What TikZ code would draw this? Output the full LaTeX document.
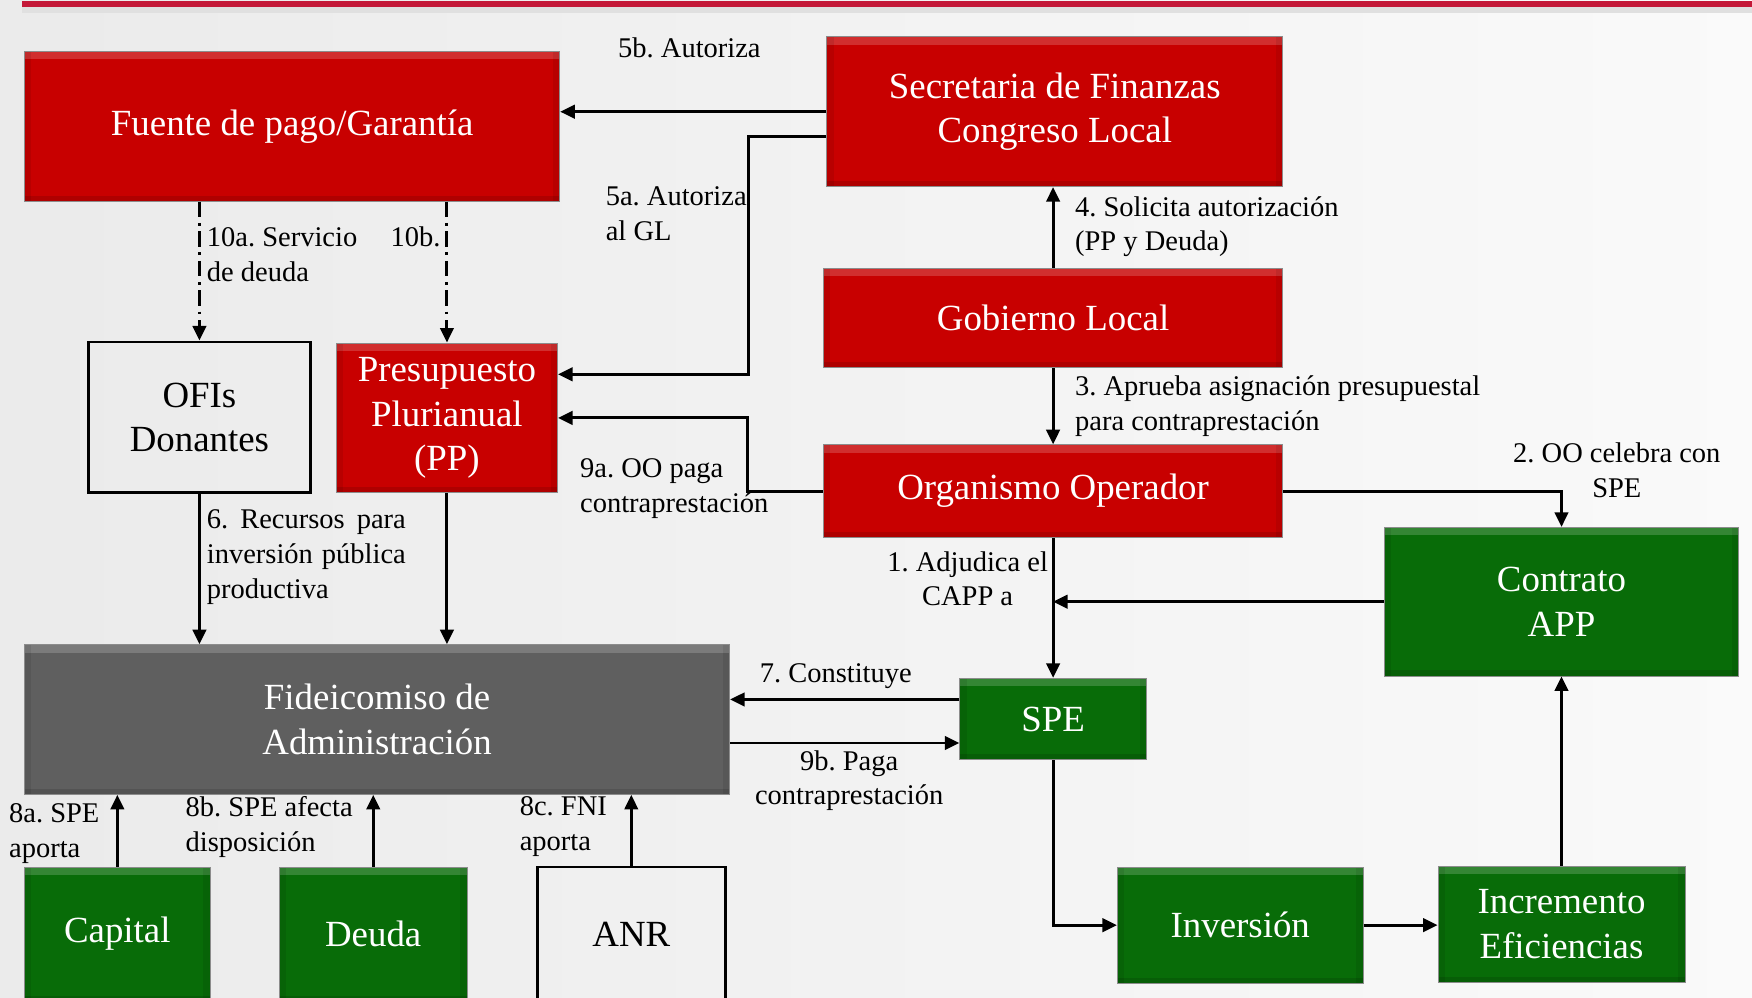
\documentclass[tikz,border=0pt]{standalone}
\usepackage{fontspec}
\setmainfont{Liberation Serif}
\usetikzlibrary{arrows.meta,calc}
\frenchspacing
\definecolor{boxred}{RGB}{200,0,0}
\definecolor{boxgreen}{RGB}{8,108,8}
\definecolor{boxgray}{RGB}{95,95,95}
\definecolor{topline}{RGB}{196,24,56}
\tikzset{
  base/.style={rectangle, inner sep=0pt, align=center, font=\fontsize{33}{40}\selectfont, draw=black!45, line width=0.8pt},
  bevel/.style={path picture={
      \fill[white,opacity=0.18] (path picture bounding box.north west) rectangle ([yshift=-7pt]path picture bounding box.north east);
      \fill[black,opacity=0.12] (path picture bounding box.south west) rectangle ([yshift=5pt]path picture bounding box.south east);
      \fill[black,opacity=0.08] (path picture bounding box.south west) rectangle ([xshift=6pt]path picture bounding box.north west);
      \fill[black,opacity=0.08] (path picture bounding box.south east) rectangle ([xshift=-6pt]path picture bounding box.north east);}},
  redbox/.style={base,bevel,fill=boxred,text=white},
  greenbox/.style={base,bevel,fill=boxgreen,text=white},
  graybox/.style={base,bevel,fill=boxgray,text=white},
  whitebox/.style={base,draw=black,line width=2.5pt,text=black},
  lab/.style={inner sep=0pt, font=\fontsize{25.5}{31}\selectfont, text=black},
  arr/.style={line width=2.6pt, -{Triangle[length=13pt,width=12pt]}},
  dd/.style={arr, dash pattern=on 14pt off 5pt on 2.5pt off 5pt}
}
\begin{document}
\begin{tikzpicture}[x=1pt,y=-1pt]
\useasboundingbox (0,0) rectangle (1568,893);
\shade[left color=black!8, right color=black!2] (0,0) rectangle (1568,893);
\draw[black!12, line width=5pt] (20,9) -- (1568,9);
\draw[topline, line width=5pt] (20,3.5) -- (1568,3.5);

% nodes
\node[redbox, minimum width=479pt, minimum height=134pt] (fuente) at (261.5,113) {Fuente de pago/Garantía};
\node[redbox, minimum width=408pt, minimum height=134pt] (secre) at (944,100) {Secretaria de Finanzas\\Congreso Local};
\node[redbox, minimum width=411pt, minimum height=89pt] (gob) at (942.5,284.5) {Gobierno Local};
\node[redbox, minimum width=411pt, minimum height=83pt] (oo) at (942.5,439.5) {Organismo Operador};
\node[whitebox, minimum width=199pt, minimum height=135pt] (ofis) at (178.5,373.5) {OFIs\\Donantes};
\node[redbox, minimum width=198pt, minimum height=134pt] (pp) at (400,374) {Presupuesto\\Plurianual\\(PP)};
\node[graybox, minimum width=631pt, minimum height=134pt] (fide) at (337.5,644) {Fideicomiso de\\Administración};
\node[greenbox, minimum width=167pt, minimum height=73pt] (spe) at (942.5,643.5) {SPE};
\node[greenbox, minimum width=317pt, minimum height=133pt] (contrato) at (1397.5,538.5) {Contrato\\APP};
\node[greenbox, minimum width=220pt, minimum height=104pt] (inv) at (1110,828) {Inversión};
\node[greenbox, minimum width=221pt, minimum height=104pt] (incr) at (1397.5,827) {Incremento\\Eficiencias};
\node[greenbox, minimum width=166pt, minimum height=120pt] (capital) at (105,836) {Capital};
\node[greenbox, minimum width=168pt, minimum height=120pt] (deuda) at (334,836) {Deuda};
\node[whitebox, minimum width=168pt, minimum height=120pt] (anr) at (565,836) {ANR};

% connectors
\draw[arr] (secre.west) -- (secre.west -| fuente.east);
\coordinate (k5a) at (670,335);
\draw[arr] ([yshift=-22pt]secre.west) -| (k5a) -- (k5a -| pp.east);
\draw[arr] (gob.north) -- (gob.north |- secre.south);
\draw[arr] (gob.south) -- (oo.north);
\coordinate (k9a) at (669,374);
\draw[arr] (oo.west) -| (k9a) -- (pp.east);
\draw[arr] (oo.east) -| (contrato.north);
\draw[arr] (oo.south) -- (spe.north);
\draw[arr] (contrato.west) -- (contrato.west -| oo.south);
\draw[dd] (fuente.south -| ofis.north) -- (ofis.north);
\draw[dd] (fuente.south -| pp.north) -- (pp.north);
\draw[arr] (ofis.south) -- (ofis.south |- fide.north);
\draw[arr] (pp.south) -- (pp.south |- fide.north);
\draw[arr] ([yshift=17.5pt]spe.west) -- ([yshift=17.5pt]spe.west -| fide.east);
\draw[arr] ([yshift=-21pt]fide.east) -- ([yshift=-21pt]fide.east -| spe.west);
\draw[arr] (capital.north) -- (capital.north |- fide.south);
\draw[arr] (deuda.north) -- (deuda.north |- fide.south);
\draw[arr] (anr.north) -- (anr.north |- fide.south);
\draw[arr] (spe.south) |- (inv.west);
\draw[arr] (inv.east) -- (inv.east -| incr.west);
\draw[arr] (incr.north) -- (contrato.south);

% labels
\node[lab] (l5b) at (617,43) {5b. Autoriza};
\node[lab, anchor=west, align=left] (l5a) at (542,191) {5a. Autoriza\\al GL};
\node[lab, anchor=west, align=left] (l4) at (962,203) {4. Solicita autorización\\(PP y Deuda)};
\node[lab, anchor=west, align=left] (l3) at (962,363.5) {3. Aprueba asignación presupuestal\\para contraprestación};
\node[lab, align=center] (l2) at (1447,421) {2. OO celebra con\\SPE};
\node[lab, anchor=west, align=left] (l9a) at (519,437) {9a. OO paga\\contraprestación};
\node[lab, align=center] (l1) at (866,518) {1. Adjudica el\\CAPP a};
\node[lab, anchor=west, align=left] (l10a) at (185,228) {10a. Servicio\\de deuda};
\node[lab] (l10b) at (372,212) {10b.};
\node[lab, anchor=west, align=left] (l6) at (185,498.5) {\makebox[178pt][s]{6. Recursos para}\\\makebox[178pt][s]{inversión pública}\\productiva};
\node[lab] (l7) at (748,605) {7. Constituye};
\node[lab, align=center] (l9b) at (760,698.5) {9b. Paga\\contraprestación};
\node[lab, anchor=west, align=left] (l8a) at (8,746) {8a. SPE\\aporta};
\node[lab, anchor=west, align=left] (l8b) at (166,740) {8b. SPE afecta\\disposición};
\node[lab, anchor=west, align=left] (l8c) at (465,740) {8c. FNI\\aporta};
\end{tikzpicture}
\end{document}
